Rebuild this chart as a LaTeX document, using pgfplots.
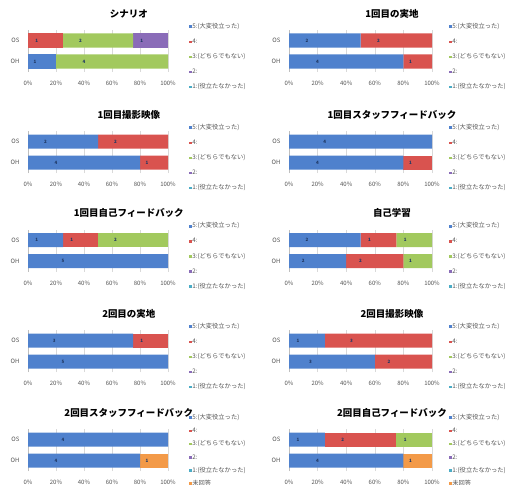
\documentclass[border=0pt]{standalone}
\usepackage{fontspec}
\setmainfont{Noto Sans CJK JP}
\usepackage{pgfplots}
\pgfplotsset{compat=1.18}
\definecolor{c5}{HTML}{4F81CD}
\definecolor{c4}{HTML}{D9534F}
\definecolor{c3}{HTML}{A2C95E}
\definecolor{c2}{HTML}{8A6CB8}
\definecolor{c1}{HTML}{4BACC6}
\definecolor{c0}{HTML}{F39A48}
\definecolor{txt}{HTML}{555555}
\definecolor{lab}{HTML}{1F3864}
\pgfplotsset{
  s5/.style={fill=c5, draw=none, legend image code/.code={\fill[c5] (0bp,-1.3bp) rectangle (2.6bp,1.3bp);}},
  s4/.style={fill=c4, draw=none, legend image code/.code={\fill[c4] (0bp,-1.3bp) rectangle (2.6bp,1.3bp);}},
  s3/.style={fill=c3, draw=none, legend image code/.code={\fill[c3] (0bp,-1.3bp) rectangle (2.6bp,1.3bp);}},
  s2/.style={fill=c2, draw=none, legend image code/.code={\fill[c2] (0bp,-1.3bp) rectangle (2.6bp,1.3bp);}},
  s1/.style={fill=c1, draw=none, legend image code/.code={\fill[c1] (0bp,-1.3bp) rectangle (2.6bp,1.3bp);}},
  s0/.style={fill=c0, draw=none, legend image code/.code={\fill[c0] (0bp,-1.3bp) rectangle (2.6bp,1.3bp);}},
  panel/.style={
    scale only axis, height=42bp, anchor=north west,
    xbar stacked, bar width=14bp,
    xmin=0, xmax=100, ymin=-0.5, ymax=1.5,
    ytick={0,1}, yticklabels={OH,OS},
    xtick={0,20,...,100},
    xticklabel={\pgfmathprintnumber{\tick}\%},
    /pgf/number format/assume math mode=true,
    axis x line*=bottom, axis y line*=left,
    x axis line style={draw=none},
    y axis line style={draw=gray!50},
    tick style={draw=none},
    xmajorgrids, grid style={draw=gray!30, line width=0.4bp},
    tick label style={font=\fontsize{6}{6.5}\selectfont, text=txt},
    xticklabel style={yshift=-6bp},
    yticklabel style={xshift=-5bp},
    title style={at={(axis description cs:0.72,1)}, anchor=center, yshift=10.5bp, font=\bfseries\fontsize{9.5}{10}\selectfont},
    legend cell align=left,
    nodes near coords, point meta=explicit symbolic,
    visualization depends on={rawx \as \rawx},
  },
  panelL/.style={panel, width=140bp,
    every node near coord/.append style={font=\bfseries\fontsize{4.5}{5}\selectfont, text=lab, anchor=center, inner sep=0pt, xshift={-0.35bp*\rawx}}},
  panelR/.style={panel, width=143bp,
    every node near coord/.append style={font=\bfseries\fontsize{4.5}{5}\selectfont, text=lab, anchor=center, inner sep=0pt, xshift={-0.3575bp*\rawx}}},
  leg5/.style={legend style={draw=none, fill=none, at={(axis description cs:#1,1.2)}, anchor=north west, row sep=9.2bp,
    nodes={inner sep=0.3bp, text height=4.3bp, text depth=1bp, font=\fontsize{6.3}{6.5}\selectfont, text=txt}},
    legend entries={5:(大変役立った),4:,3:(どちらでもない),2:,1:(役立たなかった)}},
  leg6/.style={legend style={draw=none, fill=none, at={(axis description cs:#1,1.39)}, anchor=north west, row sep=7.3bp,
    nodes={inner sep=0.3bp, text height=4.3bp, text depth=1bp, font=\fontsize{6.3}{6.5}\selectfont, text=txt}},
    legend entries={5:(大変役立った),4:,3:(どちらでもない),2:,1:(役立たなかった),未回答}},
}
\begin{document}
\begin{tikzpicture}
\useasboundingbox (0,0) rectangle (507bp,-485bp);
% Row 1 left: シナリオ
\begin{axis}[panelL, at={(28bp,-30bp)}, title={シナリオ}, leg5=1.13]
\addplot[s5] coordinates {(0,1) [0] (20,0) [1]};
\addplot[s4] coordinates {(25,1) [1] (0,0) [0]};
\addplot[s3] coordinates {(50,1) [2] (80,0) [4]};
\addplot[s2] coordinates {(25,1) [1] (0,0) [0]};
\addplot[s1] coordinates {(0,1) [0] (0,0) [0]};
\end{axis}
% Row 1 right: 1回目の実地
\begin{axis}[panelR, at={(289bp,-30bp)}, title={1回目の実地}, leg5=1.1]
\addplot[s5] coordinates {(50,1) [2] (80,0) [4]};
\addplot[s4] coordinates {(50,1) [2] (20,0) [1]};
\addplot[s3] coordinates {(0,1) [0] (0,0) [0]};
\addplot[s2] coordinates {(0,1) [0] (0,0) [0]};
\addplot[s1] coordinates {(0,1) [0] (0,0) [0]};
\end{axis}
% Row 2 left: 1回目撮影映像
\begin{axis}[panelL, at={(28bp,-131bp)}, title={1回目撮影映像}, leg5=1.13]
\addplot[s5] coordinates {(50,1) [2] (80,0) [4]};
\addplot[s4] coordinates {(50,1) [2] (20,0) [1]};
\addplot[s3] coordinates {(0,1) [0] (0,0) [0]};
\addplot[s2] coordinates {(0,1) [0] (0,0) [0]};
\addplot[s1] coordinates {(0,1) [0] (0,0) [0]};
\end{axis}
% Row 2 right: 1回目スタッフフィードバック
\begin{axis}[panelR, at={(289bp,-131bp)}, title={1回目スタッフフィードバック}, leg5=1.1]
\addplot[s5] coordinates {(100,1) [4] (80,0) [4]};
\addplot[s4] coordinates {(0,1) [0] (20,0) [1]};
\addplot[s3] coordinates {(0,1) [0] (0,0) [0]};
\addplot[s2] coordinates {(0,1) [0] (0,0) [0]};
\addplot[s1] coordinates {(0,1) [0] (0,0) [0]};
\end{axis}
% Row 3 left: 1回目自己フィードバック
\begin{axis}[panelL, at={(28bp,-229.5bp)}, title={1回目自己フィードバック}, leg5=1.13]
\addplot[s5] coordinates {(25,1) [1] (100,0) [5]};
\addplot[s4] coordinates {(25,1) [1] (0,0) [0]};
\addplot[s3] coordinates {(50,1) [2] (0,0) [0]};
\addplot[s2] coordinates {(0,1) [0] (0,0) [0]};
\addplot[s1] coordinates {(0,1) [0] (0,0) [0]};
\end{axis}
% Row 3 right: 自己学習
\begin{axis}[panelR, at={(289bp,-229.5bp)}, title={自己学習}, leg5=1.1]
\addplot[s5] coordinates {(50,1) [2] (40,0) [2]};
\addplot[s4] coordinates {(25,1) [1] (40,0) [2]};
\addplot[s3] coordinates {(25,1) [1] (20,0) [1]};
\addplot[s2] coordinates {(0,1) [0] (0,0) [0]};
\addplot[s1] coordinates {(0,1) [0] (0,0) [0]};
\end{axis}
% Row 4 left: 2回目の実地
\begin{axis}[panelL, at={(28bp,-330bp)}, title={2回目の実地}, leg5=1.13]
\addplot[s5] coordinates {(75,1) [3] (100,0) [5]};
\addplot[s4] coordinates {(25,1) [1] (0,0) [0]};
\addplot[s3] coordinates {(0,1) [0] (0,0) [0]};
\addplot[s2] coordinates {(0,1) [0] (0,0) [0]};
\addplot[s1] coordinates {(0,1) [0] (0,0) [0]};
\end{axis}
% Row 4 right: 2回目撮影映像
\begin{axis}[panelR, at={(289bp,-330bp)}, title={2回目撮影映像}, leg5=1.1]
\addplot[s5] coordinates {(25,1) [1] (60,0) [3]};
\addplot[s4] coordinates {(75,1) [3] (40,0) [2]};
\addplot[s3] coordinates {(0,1) [0] (0,0) [0]};
\addplot[s2] coordinates {(0,1) [0] (0,0) [0]};
\addplot[s1] coordinates {(0,1) [0] (0,0) [0]};
\end{axis}
% Row 5 left: 2回目スタッフフィードバック
\begin{axis}[panelL, at={(28bp,-429bp)}, title={2回目スタッフフィードバック}, leg6=1.13]
\addplot[s5] coordinates {(100,1) [4] (80,0) [4]};
\addplot[s4] coordinates {(0,1) [0] (0,0) [0]};
\addplot[s3] coordinates {(0,1) [0] (0,0) [0]};
\addplot[s2] coordinates {(0,1) [0] (0,0) [0]};
\addplot[s1] coordinates {(0,1) [0] (0,0) [0]};
\addplot[s0] coordinates {(0,1) [0] (20,0) [1]};
\end{axis}
% Row 5 right: 2回目自己フィードバック
\begin{axis}[panelR, at={(289bp,-429bp)}, title={2回目自己フィードバック}, leg6=1.1]
\addplot[s5] coordinates {(25,1) [1] (80,0) [4]};
\addplot[s4] coordinates {(50,1) [2] (0,0) [0]};
\addplot[s3] coordinates {(25,1) [1] (0,0) [0]};
\addplot[s2] coordinates {(0,1) [0] (0,0) [0]};
\addplot[s1] coordinates {(0,1) [0] (0,0) [0]};
\addplot[s0] coordinates {(0,1) [0] (20,0) [1]};
\end{axis}
\end{tikzpicture}
\end{document}
